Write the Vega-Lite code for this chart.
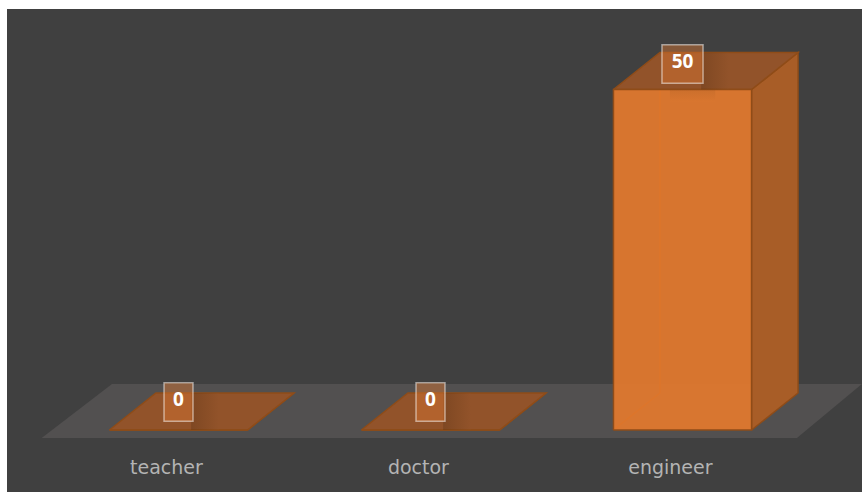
{
"$schema":"https://vega.github.io/schema/vega-lite/v6.json",
"width":855,"height":483,
"autosize":{"type":"none"},
"padding":{"left":7,"top":9,"right":0,"bottom":0},
"background":"#ffffff",
"view":{"fill":"#404040","stroke":null},
"datasets":{"jobs":[{"job":"teacher","value":0},{"job":"doctor","value":0},{"job":"engineer","value":50}]},
"data":{"name":"jobs"},
"transform":[{"calculate":"indexof(['teacher','doctor','engineer'],datum.job)","as":"pos"}],
"encoding":{
"x":{"field":"px","type":"quantitative","axis":null,"scale":{"domain":[-0.6806,2.7123],"nice":false,"zero":false}},
"y":{"field":"py","type":"quantitative","axis":null,"scale":{"domain":[-9.104,61.82],"nice":false,"zero":false}}
},
"layer":[
{"transform":[{"filter":"datum.pos==0"},
{"calculate":"[-0.543,2.454,2.712,-0.264]","as":"px"},{"calculate":"[-1.175,-1.175,6.755,6.755]","as":"py"},{"calculate":"[0,1,2,3]","as":"k"},{"flatten":["px","py","k"]}],
"mark":{"type":"line","fill":"#525050","stroke":null,"strokeWidth":0},
"encoding":{"order":{"field":"k","type":"quantitative"}}},
{"transform":[{"filter":"datum.value>0"},
{"calculate":"[-1,-1,-1]","as":"a"},{"calculate":"[0,0,1]","as":"h"},{"calculate":"[0,1,1]","as":"c"},{"calculate":"[0,1,2]","as":"k"},{"flatten":["a","h","c","k"]},
{"calculate":"datum.pos+0.274*datum.a+0.1845*datum.c","as":"px"},{"calculate":"datum.value*datum.h+5.433*datum.c","as":"py"}],
"mark":{"type":"line","stroke":"#8a4208","strokeWidth":1.5},
"encoding":{"order":{"field":"k","type":"quantitative"}}},
{"transform":[
{"calculate":"[1,1,1,1,1]","as":"a"},{"calculate":"[0,1,1,0,0]","as":"h"},{"calculate":"[0,0,1,1,0]","as":"c"},{"calculate":"[0,1,2,3,4]","as":"k"},{"flatten":["a","h","c","k"]},
{"calculate":"datum.pos+0.274*datum.a+0.1845*datum.c","as":"px"},{"calculate":"datum.value*datum.h+5.433*datum.c","as":"py"}],
"mark":{"type":"line","fill":"#a85d27","stroke":"#8f4c18","strokeWidth":1.5,"strokeJoin":"miter"},
"encoding":{"detail":{"field":"job"},"order":{"field":"k","type":"quantitative"}}},
{"transform":[
{"calculate":"[-1,1,1,-1,-1]","as":"a"},{"calculate":"[1,1,1,1,1]","as":"h"},{"calculate":"[0,0,1,1,0]","as":"c"},{"calculate":"[0,1,2,3,4]","as":"k"},{"flatten":["a","h","c","k"]},
{"calculate":"datum.pos+0.274*datum.a+0.1845*datum.c","as":"px"},{"calculate":"datum.value*datum.h+5.433*datum.c","as":"py"}],
"mark":{"type":"line","fill":"#92532a","stroke":"#8f4c18","strokeWidth":1.5,"strokeJoin":"miter"},
"encoding":{"detail":{"field":"job"},"order":{"field":"k","type":"quantitative"}}},
{"transform":[
{"calculate":"[-1,1,1,-1,-1]","as":"a"},{"calculate":"[0,0,1,1,0]","as":"h"},{"calculate":"[0,1,2,3,4]","as":"k"},{"flatten":["a","h","k"]},
{"calculate":"datum.pos+0.274*datum.a","as":"px"},{"calculate":"datum.value*datum.h","as":"py"}],
"mark":{"type":"line","fill":"#e47a2e","fillOpacity":0.92,"stroke":"#8f4c18","strokeWidth":1.5,"strokeJoin":"miter"},
"encoding":{"detail":{"field":"job"},"order":{"field":"k","type":"quantitative"}}},
{"transform":[
{"calculate":"datum.pos+0.05+0.024*(length(''+datum.value)-1)","as":"px"},
{"calculate":"datum.px+0.11","as":"px2"},
{"calculate":"datum.value","as":"py"},
{"calculate":"datum.value+5.433","as":"py2"}],
"mark":{"type":"rect","fill":{"gradient":"linear","x1":0,"x2":1,"y1":0,"y2":0,"stops":[{"offset":0,"color":"#3a2008"},{"offset":1,"color":"#92532a"}]},"opacity":0.22},
"encoding":{"x2":{"field":"px2"},"y2":{"field":"py2"}}},
{"transform":[{"filter":"datum.value>0"},
{"calculate":"datum.pos-0.05","as":"px"},
{"calculate":"datum.pos+0.13","as":"px2"},
{"calculate":"datum.value-1.8","as":"py"},
{"calculate":"datum.value","as":"py2"}],
"mark":{"type":"rect","fill":{"gradient":"linear","x1":0,"x2":0,"y1":0,"y2":1,"stops":[{"offset":0,"color":"#8a4c1c"},{"offset":1,"color":"#e07a30"}]},"opacity":0.16},
"encoding":{"x2":{"field":"px2"},"y2":{"field":"py2"}}},
{"transform":[
{"calculate":"datum.pos-0.0575-0.024*(length(''+datum.value)-1)","as":"px"},
{"calculate":"datum.pos+0.0575+0.024*(length(''+datum.value)-1)","as":"px2"},
{"calculate":"datum.value*0.9926+1.3","as":"py"},
{"calculate":"datum.value*0.9926+6.95","as":"py2"}],
"mark":{"type":"rect","fill":"#d97631","fillOpacity":0.45,"stroke":"#ffffff","strokeOpacity":0.5,"strokeWidth":1.5},
"encoding":{"x2":{"field":"px2"},"y2":{"field":"py2"}}},
{"transform":[{"calculate":"datum.pos","as":"px"},{"calculate":"datum.value*0.9926+4.35","as":"py"}],
"mark":{"type":"text","font":"Open Sans","fontSize":19,"fontWeight":"bold","fill":"#ffffff","align":"center","baseline":"middle"},
"encoding":{"text":{"field":"value","type":"quantitative"}}},
{"transform":[{"calculate":"datum.pos-0.048","as":"px"},{"calculate":"-5.55","as":"py"}],
"mark":{"type":"text","font":"DejaVu Sans","fontSize":19,"fill":"#b4b4b4","align":"center","baseline":"middle"},
"encoding":{"text":{"field":"job","type":"nominal"}}}
]
}
